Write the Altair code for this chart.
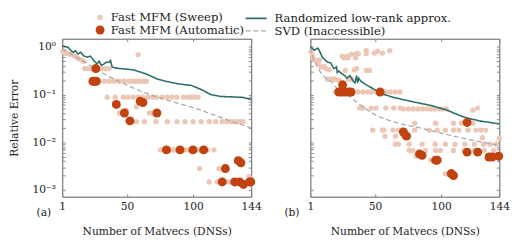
import altair as alt
import pandas as pd

FONT = "DejaVu Serif"
C_SWEEP = "#eec6b6"
C_AUTO = "#c0420e"
C_RAND = "#2b6e69"
C_SVD = "#a9a9a9"

SWEEP = "Fast MFM (Sweep)"
AUTO = "Fast MFM (Automatic)"
RAND = "Randomized low-rank approx."
SVD = "SVD (Inaccessible)"

X_TICKS = [1, 50, 100, 144]
X_TITLE = "Number of Matvecs (DNSs)"
Y_TITLE = "Relative Error"
Y_TICKS = [0.001, 0.002, 0.003, 0.004, 0.005, 0.006, 0.007, 0.008, 0.009,
           0.01, 0.02, 0.03, 0.04, 0.05, 0.06, 0.07, 0.08, 0.09,
           0.1, 0.2, 0.3, 0.4, 0.5, 0.6, 0.7, 0.8, 0.9, 1]
Y_LABELS = {1: "10⁰", 0.1: "10⁻¹", 0.01: "10⁻²", 0.001: "10⁻³"}
TAGS = ["(a)", "(b)"]

# ---------------- panel (a) ----------------
A_SWEEP_X = [1.5, 3, 5, 7, 9, 11, 13, 15, 17,
             18, 20.5, 23, 29, 31.5, 34, 36.5,
             58.5,
             23, 29, 32.8, 36.5, 40.1, 43.8, 47.5, 51.1, 53.6, 56, 58.5, 60.9, 63.3, 64.6,
             35, 41.1, 47.3, 50.9, 54.6, 58.3, 62, 65.6, 69.3, 72.2, 76.6, 80.3, 83.9, 87.7, 92.8, 96.4, 98.7, 100.9, 103.8,
             59, 62.5, 44.3, 49.3, 67, 69.5, 57,
             57, 63.2, 71.9, 80.5, 87.8, 93.9, 100, 106.1, 112.2, 117.1, 122, 125.6, 128.1, 130.5, 133, 135.5, 137.9,
             75.4, 78, 82.9, 85.2, 86.4, 93.8, 96.3, 103.6, 105.4, 110.9, 115.8,
             104.8, 119.5, 142.2, 144,
             112.1, 118.3, 124, 126.8, 129.3, 133, 140.3, 142.8]
A_SWEEP_Y = [0.78, 0.74, 0.72, 0.70, 0.68, 0.63, 0.57, 0.54, 0.50,
             0.35, 0.35, 0.35, 0.35, 0.35, 0.35, 0.35,
             0.69,
             0.19, 0.19, 0.19, 0.19, 0.19, 0.19, 0.19, 0.19, 0.19, 0.19, 0.19, 0.19, 0.19, 0.19,
             0.088, 0.088, 0.088, 0.088, 0.088, 0.088, 0.088, 0.088, 0.088, 0.088, 0.088, 0.088, 0.088, 0.088, 0.088, 0.088, 0.088, 0.088, 0.088,
             0.077, 0.075, 0.041, 0.047, 0.041, 0.041, 0.055,
             0.027, 0.027, 0.027, 0.027, 0.027, 0.027, 0.027, 0.027, 0.027, 0.027, 0.027, 0.027, 0.027, 0.027, 0.027, 0.027, 0.027,
             0.0069, 0.0069, 0.0069, 0.0069, 0.0069, 0.0069, 0.0069, 0.0069, 0.0069, 0.0069, 0.0069,
             0.0028, 0.0028, 0.0019, 0.0017,
             0.00147, 0.00147, 0.00147, 0.00147, 0.00147, 0.00147, 0.00147, 0.00147]
A_AUTO_X = [26.4, 24.2, 25.4, 26.7, 41.9, 48, 52.2, 60, 62, 72.6,
            79.8, 90.1, 99.9, 108, 124.4, 134.2, 136.2,
            122, 131.5, 135.2, 138.1, 142.8, 143.6]
A_AUTO_Y = [0.35, 0.19, 0.19, 0.19, 0.062, 0.041, 0.028, 0.072, 0.068, 0.041,
            0.0069, 0.0069, 0.0069, 0.0069, 0.0028, 0.0041, 0.0037,
            0.00147, 0.00147, 0.00147, 0.0013, 0.00147, 0.00147]
A_RAND_X = [1, 5.6, 6.9, 9.3, 11, 13, 15, 17.4, 19.9, 22.3, 24.7, 27.2, 28.9, 30.6, 32.6,
            34.6, 36.3, 37.5, 38.7, 41.2, 44.8, 49.7, 54.6, 59.5, 64.4, 69.3, 73, 79.1,
            88.9, 98.7, 106, 113.4, 120.7, 130.5, 137.8, 144]
A_RAND_Y = [1.05, 0.97, 0.87, 0.77, 0.83, 0.71, 0.77, 0.64, 0.61, 0.64, 0.52, 0.44, 0.50, 0.41, 0.44,
            0.48, 0.47, 0.52, 0.38, 0.36, 0.35, 0.34, 0.33, 0.30, 0.27, 0.235, 0.21, 0.19,
            0.167, 0.155, 0.128, 0.10, 0.091, 0.089, 0.087, 0.078]
A_SVD_X = [1, 6, 14, 22, 29, 36, 44, 54, 63, 70, 80, 90, 100, 106, 115, 125, 135, 144]
A_SVD_Y = [0.9, 0.75, 0.55, 0.41, 0.31, 0.24, 0.19, 0.14, 0.11, 0.094, 0.077, 0.064, 0.053,
           0.047, 0.038, 0.030, 0.024, 0.020]

# ---------------- panel (b) ----------------
B_SWEEP_X = [1.5, 2.5, 3, 5.4, 7, 7.8, 9.1, 11.5, 12.7, 15.2, 14, 16.4, 18.8, 19.6, 22.5, 29.8, 32.3,
             25, 26.2, 28.6, 29.4, 32.3, 35.2, 36, 37.2,
             43.3, 43.3, 49.4, 51.8, 55.5, 61.1,
             27.4, 34.2, 36, 43.3, 45.7,
             20, 33, 37.2, 40.9, 44.5, 47, 50.7, 58, 61.6, 65.3, 68.9,
             38.4, 40.9, 47, 50.7, 58, 64.1, 68.9, 71.4, 75.1, 78.7, 82.4, 86.1, 89.7, 92.2, 95.1, 98.3, 100.7, 103.9, 124, 127.6,
             79.9, 95.8, 109.3, 115.4, 124,
             48.2, 55.5, 56.7, 63.6, 67.7, 79.9, 90.9, 97, 103.2, 109.3, 113.5, 120.3, 126.4, 130.1, 133.7,
             57.5, 65.3, 71.4, 131.1, 144,
             65.3, 67.7, 75.8, 85.6, 95.4, 103.2, 110.5, 117.9, 125.2, 132.1, 136.9, 141.8,
             75.8, 78.7, 88, 95.8, 99.4, 109.3, 117.4, 125.2, 132.5, 139.8,
             92.2, 81, 82, 103.2, 105.6]
B_SWEEP_Y = [0.8, 0.65, 0.56, 0.52, 0.45, 0.53, 0.38, 0.39, 0.35, 0.33, 0.21, 0.21, 0.21, 0.21, 0.2, 0.21, 0.21,
             0.64, 0.59, 0.64, 0.59, 0.70, 0.59, 0.72, 0.72,
             0.84, 0.72, 0.74, 0.81, 0.74, 0.83,
             0.32, 0.33, 0.35, 0.32, 0.32,
             0.113, 0.113, 0.113, 0.113, 0.113, 0.113, 0.113, 0.113, 0.113, 0.113, 0.113,
             0.052, 0.052, 0.052, 0.052, 0.052, 0.052, 0.052, 0.050, 0.050, 0.050, 0.050, 0.050, 0.050, 0.050, 0.050, 0.050, 0.050, 0.050, 0.047, 0.052,
             0.025, 0.025, 0.025, 0.025, 0.025,
             0.018, 0.018, 0.018, 0.018, 0.018, 0.018, 0.018, 0.018, 0.018, 0.018, 0.018, 0.018, 0.018, 0.018, 0.018,
             0.0134, 0.0134, 0.0134, 0.0124, 0.012,
             0.0091, 0.0091, 0.0091, 0.0091, 0.0091, 0.0091, 0.0091, 0.0091, 0.0091, 0.0091, 0.0091, 0.0091,
             0.0067, 0.0067, 0.0067, 0.0067, 0.0067, 0.0067, 0.0067, 0.0067, 0.0067, 0.0067,
             0.0042, 0.0052, 0.0050, 0.0022, 0.0021]
B_AUTO_X = [25.4, 22.5, 24.9, 27.4, 29.8, 31.8, 53.8, 71.4, 73.8, 83.6, 85.5, 95.8, 97,
            107.6, 109.3, 119.6, 119.6, 127.6, 136.2, 138.6, 143.5]
B_AUTO_Y = [0.16, 0.113, 0.113, 0.113, 0.113, 0.113, 0.113, 0.0164, 0.0134, 0.0057, 0.0053, 0.0042, 0.0042,
            0.0022, 0.0020, 0.026, 0.0062, 0.0062, 0.0049, 0.0049, 0.0051]
B_RAND_X = [1, 4.2, 6.6, 7.8, 10.3, 13.9, 16.4, 18.8, 20.8, 21.3, 22.5, 23.7, 25.2, 26.9, 28.6, 31, 33.5,
            34.7, 36, 36.7, 37.7, 39.1, 43.3, 49.4, 56.7, 64.1, 71.4, 80, 92.2, 104.4, 116.6,
            128.8, 141, 144]
B_RAND_Y = [1.0, 0.85, 0.94, 0.83, 0.59, 0.48, 0.46, 0.35, 0.38, 0.29, 0.31, 0.29, 0.27, 0.25, 0.22, 0.25, 0.19,
            0.175, 0.25, 0.175, 0.22, 0.19, 0.16, 0.128, 0.10, 0.087, 0.078, 0.069, 0.059, 0.047, 0.034,
            0.028, 0.025, 0.024]
B_SVD_X = [1, 3, 5.4, 9.1, 12.7, 17.6, 22.5, 29.8, 37.2, 44.5, 51.8, 60, 70, 80, 91, 100, 110,
           120, 130, 144]
B_SVD_Y = [0.95, 0.6, 0.42, 0.28, 0.22, 0.18, 0.12, 0.095, 0.065, 0.047, 0.035, 0.029, 0.024, 0.021,
           0.018, 0.0155, 0.0133, 0.0115, 0.0102, 0.0086]

W, H = 195, 163

label_expr = " : ".join(
    f"datum.value == {v} ? '{t}'" for v, t in Y_LABELS.items()
) + " : ''"

pt_legend = alt.Legend(title=None, orient="none", legendX=33, legendY=-28, padding=0,
                       direction="vertical", labelOffset=5, rowPadding=1,
                       symbolStrokeWidth=0, labelLimit=0, labelFontSize=12)
ln_legend = alt.Legend(title=None, orient="none", legendX=193, legendY=-28, padding=0,
                       direction="vertical", labelOffset=12, rowPadding=0,
                       symbolType="M-1.8,0L1.8,0", symbolSize=144, labelLimit=0,
                       labelFontSize=12)

xs = alt.Scale(domain=[1, 144], nice=False, zero=False)
ys = alt.Scale(type="log", domain=[0.00072, 1.48], nice=False)
fill_scale = alt.Scale(domain=[SWEEP, AUTO], range=[C_SWEEP, C_AUTO])
size_scale = alt.Scale(domain=[SWEEP, AUTO], range=[30, 85])
stroke_scale = alt.Scale(domain=[RAND, SVD], range=[C_RAND, C_SVD])
dash_scale = alt.Scale(domain=[RAND, SVD], range=[[1, 0], [5, 3]])
sw_scale = alt.Scale(domain=[RAND, SVD], range=[1.6, 1.3])


def panel(sx, sy, ax_, ay, rx, ry, vx, vy, tag, show_y):
    sweep = pd.DataFrame({"x": sx, "y": sy, "kind": SWEEP})
    auto = pd.DataFrame({"x": ax_, "y": ay, "kind": AUTO})
    lines = pd.concat([
        pd.DataFrame({"x": rx, "y": ry, "method": RAND}),
        pd.DataFrame({"x": vx, "y": vy, "method": SVD}),
    ])
    bottom = alt.Axis(values=X_TICKS, orient="bottom", offset=-3, tickSize=3, domain=False,
                      labelPadding=4, title=X_TITLE, titlePadding=15, grid=False,
                      labelFlush=False, labelOverlap=False)
    top = alt.Axis(values=X_TICKS, orient="top", offset=-3, tickSize=3, domain=False,
                   labels=False, title=None, grid=False)
    left = alt.Axis(values=Y_TICKS, orient="left", offset=-3, tickSize=3, domain=False,
                    labelExpr=label_expr, labelPadding=7, labels=show_y,
                    title=Y_TITLE if show_y else None, titlePadding=13, grid=False,
                    labelOverlap=False, labelBound=False, labelFlush=False)
    right = alt.Axis(values=Y_TICKS, orient="right", offset=-3, tickSize=3, domain=False,
                     labels=False, title=None, grid=False)

    l_sweep = alt.Chart(sweep).mark_circle(opacity=1).encode(
        x=alt.X("x:Q", scale=xs, axis=bottom),
        y=alt.Y("y:Q", scale=ys, axis=left),
        fill=alt.Fill("kind:N", scale=fill_scale, legend=pt_legend),
        size=alt.Size("kind:O", scale=size_scale, legend=pt_legend),
    )
    l_lines = alt.Chart(lines).mark_line().encode(
        x=alt.X("x:Q", scale=xs, axis=top),
        y=alt.Y("y:Q", scale=ys, axis=right),
        stroke=alt.Stroke("method:N", scale=stroke_scale, legend=ln_legend),
        strokeDash=alt.StrokeDash("method:N", scale=dash_scale, legend=ln_legend),
        strokeWidth=alt.StrokeWidth("method:O", scale=sw_scale, legend=ln_legend),
        detail="method:N",
    )
    l_auto = alt.Chart(auto).mark_circle(opacity=1).encode(
        x=alt.X("x:Q", scale=xs, axis=None),
        y=alt.Y("y:Q", scale=ys, axis=None),
        fill=alt.Fill("kind:N", scale=fill_scale, legend=pt_legend),
        size=alt.Size("kind:O", scale=size_scale, legend=pt_legend),
    )
    l_tag = alt.Chart(pd.DataFrame({"t": [tag]})).mark_text(
        font=FONT, fontSize=11, color="#222", align="center", baseline="middle"
    ).encode(text="t:N", x=alt.value(-19), y=alt.value(H + 17))
    return alt.layer(l_sweep, l_lines, l_auto, l_tag).resolve_axis(
        x="independent", y="independent"
    ).properties(width=W, height=H)


pa = panel(A_SWEEP_X, A_SWEEP_Y, A_AUTO_X, A_AUTO_Y, A_RAND_X, A_RAND_Y, A_SVD_X, A_SVD_Y, TAGS[0], True)
pb = panel(B_SWEEP_X, B_SWEEP_Y, B_AUTO_X, B_AUTO_Y, B_RAND_X, B_RAND_Y, B_SVD_X, B_SVD_Y, TAGS[1], False)

chart = alt.hconcat(pa, pb, spacing=22).resolve_scale(
    fill="shared", size="shared", stroke="shared", strokeDash="shared", strokeWidth="shared"
).configure_view(
    stroke="#5a5a5a", strokeWidth=1
).configure_axis(
    labelFont=FONT, titleFont=FONT, labelFontSize=11, titleFontSize=11,
    labelColor="#222", titleColor="#222", tickColor="#888", titleFontWeight="normal"
).configure_legend(
    labelFont=FONT, labelFontSize=12, labelColor="#222"
).properties(padding={"left": 0, "top": 0, "right": 0, "bottom": 0})

chart.save("out.html", embed_options={"renderer": "svg", "actions": False})
